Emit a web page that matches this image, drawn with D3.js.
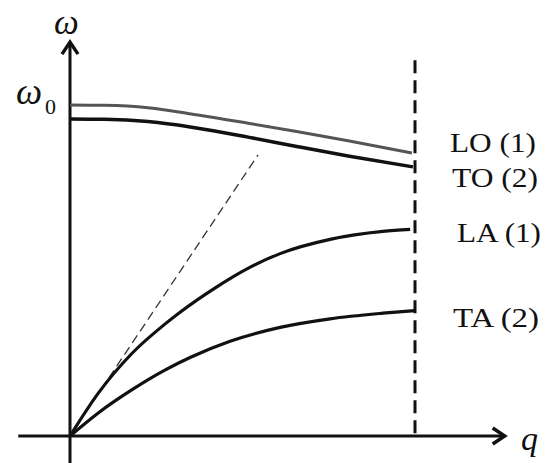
<!DOCTYPE html>
<html>
<head>
<meta charset="utf-8">
<script src="https://cdn.jsdelivr.net/npm/d3@7"></script>
<style>
  body { margin: 0; background: #fff; }
  text { font-family: "Liberation Serif", "DejaVu Serif", serif; fill: #111; }
</style>
</head>
<body>
<div id="chart"></div>
<script>
// dispersion branches, q in units of the zone boundary, omega in units of omega0
var qLO = [0, 0.1, 0.226, 0.371, 0.516, 0.661, 0.806, 0.991];
var wLO = [1.0, 0.999, 0.992, 0.970, 0.945, 0.919, 0.892, 0.855];

var qTO = [0, 0.1, 0.226, 0.371, 0.516, 0.661, 0.806, 0.994];
var wTO = [0.958, 0.957, 0.950, 0.930, 0.903, 0.874, 0.846, 0.813];

var qLA = [0, 0.081, 0.180, 0.275, 0.319, 0.420, 0.513, 0.609, 0.754, 0.907, 0.986];
var wLA = [0, 0.128, 0.250, 0.338, 0.374, 0.447, 0.505, 0.551, 0.594, 0.618, 0.624];

var qTA = [0, 0.081, 0.180, 0.275, 0.348, 0.464, 0.609, 0.754, 0.907, 1.0];
var wTA = [0, 0.069, 0.140, 0.199, 0.237, 0.286, 0.328, 0.354, 0.371, 0.379];

var soundSlope = 1.558;     // dashed tangent at q -> 0
var soundEnd = 0.545;
var zoneEdge = 1.0;

var labels = ["LO (1)", "TO (2)", "LA (1)", "TA (2)"];

var svgWidth = 550;
var svgHeight = 463;

var svg = d3.select("#chart")
  .append("svg")
  .attr("width", svgWidth)
  .attr("height", svgHeight);

var xScale = d3.scaleLinear().domain([0, 1]).range([70, 415]);
var yScale = d3.scaleLinear().domain([0, 1]).range([436, 105]);

var line = d3.line()
  .x(d => xScale(d[0]))
  .y(d => yScale(d[1]))
  .curve(d3.curveMonotoneX);

// axes
svg.append("line")
  .attr("x1", xScale(-0.15)).attr("x2", xScale(1.255))
  .attr("y1", yScale(0)).attr("y2", yScale(0))
  .attr("stroke", "#111").attr("stroke-width", 3);

svg.append("line")
  .attr("x1", xScale(0)).attr("x2", xScale(0))
  .attr("y1", yScale(-0.09)).attr("y2", yScale(1.185))
  .attr("stroke", "#111").attr("stroke-width", 3);

// arrow heads
var xt = xScale(1.26), yt = yScale(0);
svg.append("path")
  .attr("d", `M${xt - 12},${yt - 8} L${xt},${yt} L${xt - 12},${yt + 8}`)
  .attr("fill", "none").attr("stroke", "#111").attr("stroke-width", 3.5);

var ax = xScale(0), ay = yScale(1.19);
svg.append("path")
  .attr("d", `M${ax - 8},${ay + 12} L${ax},${ay} L${ax + 8},${ay + 12}`)
  .attr("fill", "none").attr("stroke", "#111").attr("stroke-width", 3.5);

// zone boundary
svg.append("line")
  .attr("x1", xScale(zoneEdge)).attr("x2", xScale(zoneEdge))
  .attr("y1", yScale(1.135)).attr("y2", yScale(0))
  .attr("stroke", "#111").attr("stroke-width", 3)
  .attr("stroke-dasharray", "13,7");

// sound-velocity tangent
svg.append("line")
  .attr("x1", xScale(0)).attr("y1", yScale(0))
  .attr("x2", xScale(soundEnd)).attr("y2", yScale(soundSlope * soundEnd))
  .attr("stroke", "#333").attr("stroke-width", 1.3)
  .attr("stroke-dasharray", "9,5");

// branches
var branches = [
  { q: qLO, w: wLO, color: "#555", width: 3 },
  { q: qTO, w: wTO, color: "#111", width: 3.5 },
  { q: qLA, w: wLA, color: "#111", width: 3.2 },
  { q: qTA, w: wTA, color: "#111", width: 3.2 }
];

branches.forEach(function(b) {
  svg.append("path")
    .datum(b.q.map((q, i) => [q, b.w[i]]))
    .attr("d", line)
    .attr("fill", "none")
    .attr("stroke", b.color)
    .attr("stroke-width", b.width);
});

// branch labels
var labelPos = [[450, 152], [452, 187], [457, 242], [453, 327]];
labels.forEach(function(t, i) {
  svg.append("text")
    .attr("x", labelPos[i][0])
    .attr("y", labelPos[i][1])
    .attr("font-size", 27)
    .attr("textLength", i == 2 ? 84 : 86)
    .attr("lengthAdjust", "spacingAndGlyphs")
    .text(t);
});

// axis titles
svg.append("text")
  .attr("x", 54).attr("y", 34)
  .attr("font-size", 35)
  .attr("font-style", "italic")
  .text("ω");

svg.append("text")
  .attr("x", 16).attr("y", 104)
  .attr("font-size", 37)
  .attr("font-style", "italic")
  .text("ω");
svg.append("text")
  .attr("x", 45).attr("y", 114)
  .attr("font-size", 22)
  .text("0");

svg.append("text")
  .attr("x", 521).attr("y", 450)
  .attr("font-size", 34)
  .attr("font-style", "italic")
  .text("q");
</script>
</body>
</html>
